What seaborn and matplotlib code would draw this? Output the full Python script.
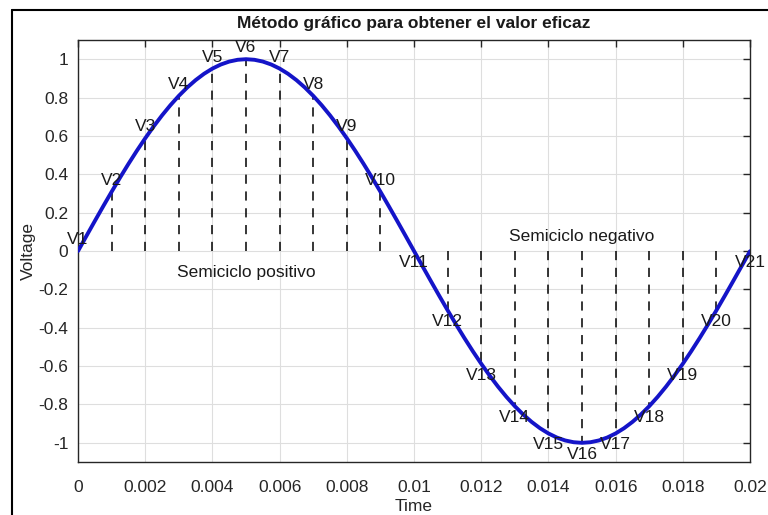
import numpy as np
import pandas as pd
import seaborn as sns
import matplotlib.pyplot as plt
from matplotlib.lines import Line2D

# Curve values read at every 0.00025 s
curve_t = [i * 0.00025 for i in range(81)]
curve_v = [0, 0.0785, 0.1564, 0.2334, 0.3090, 0.3827, 0.4540, 0.5225, 0.5878, 0.6494,
           0.7071, 0.7604, 0.8090, 0.8526, 0.8910, 0.9239, 0.9511, 0.9724, 0.9877, 0.9969,
           1, 0.9969, 0.9877, 0.9724, 0.9511, 0.9239, 0.8910, 0.8526, 0.8090, 0.7604,
           0.7071, 0.6494, 0.5878, 0.5225, 0.4540, 0.3827, 0.3090, 0.2334, 0.1564, 0.0785,
           0, -0.0785, -0.1564, -0.2334, -0.3090, -0.3827, -0.4540, -0.5225, -0.5878, -0.6494,
           -0.7071, -0.7604, -0.8090, -0.8526, -0.8910, -0.9239, -0.9511, -0.9724, -0.9877, -0.9969,
           -1, -0.9969, -0.9877, -0.9724, -0.9511, -0.9239, -0.8910, -0.8526, -0.8090, -0.7604,
           -0.7071, -0.6494, -0.5878, -0.5225, -0.4540, -0.3827, -0.3090, -0.2334, -0.1564, -0.0785,
           -0.001]

# Samples V1..V21 every 0.001 s
sample_t = [i * 0.001 for i in range(21)]
sample_v = [0.001, 0.309, 0.588, 0.809, 0.951, 1, 0.951, 0.809, 0.588, 0.309,
            -0.001, -0.309, -0.588, -0.809, -0.951, -1, -0.951, -0.809, -0.588, -0.309,
            -0.001]
sample_labels = ["V%d" % (i + 1) for i in range(21)]

x_ticks = [0, 0.002, 0.004, 0.006, 0.008, 0.01, 0.012, 0.014, 0.016, 0.018, 0.02]
x_tick_labels = ["0", "0.002", "0.004", "0.006", "0.008", "0.01", "0.012",
                 "0.014", "0.016", "0.018", "0.02"]
y_ticks = [-1, -0.8, -0.6, -0.4, -0.2, 0, 0.2, 0.4, 0.6, 0.8, 1]
y_tick_labels = ["-1", "-0.8", "-0.6", "-0.4", "-0.2", "0", "0.2", "0.4", "0.6", "0.8", "1"]

sns.set_style("white")
plt.rcParams['font.family'] = ['Liberation Sans', 'DejaVu Sans']

fig = plt.figure(figsize=(7.68, 5.15), dpi=100)
ax = fig.add_axes([0.1016, 0.1029, 0.875, 0.8194])

# Dashed sample lines
for t, v in zip(sample_t[1:-1], sample_v[1:-1]):
    ax.plot([t, t], [0, v], color="black", linestyle=(0, (6, 5)), linewidth=1.1, zorder=2)

df = pd.DataFrame({"Time": curve_t, "Voltage": curve_v})
sns.lineplot(data=df, x="Time", y="Voltage", ax=ax, color="#1414c8", linewidth=2.8, zorder=3)

# Sample labels
for t, v, lab in zip(sample_t, sample_v, sample_labels):
    if v >= 0:
        ax.text(t, v + 0.02, lab, ha="center", va="bottom", fontsize=12.5, color="#1a1a1a", zorder=4)
    else:
        ax.text(t, v - 0.02, lab, ha="center", va="top", fontsize=12.5, color="#1a1a1a", zorder=4)

ax.text(0.005, -0.11, "Semiciclo positivo", ha="center", va="center", fontsize=12.5, color="#1a1a1a")
ax.text(0.015, 0.075, "Semiciclo negativo", ha="center", va="center", fontsize=12.5, color="#1a1a1a")

ax.set_xlim(0, 0.02)
ax.set_ylim(-1.1, 1.1)
ax.set_xticks(x_ticks)
ax.set_xticklabels(x_tick_labels)
ax.set_yticks(y_ticks)
ax.set_yticklabels(y_tick_labels)
ax.tick_params(direction="in", top=True, right=True, length=5, width=1,
               labelsize=12.5, labelcolor="#262626")
ax.tick_params(axis="x", pad=13)
ax.tick_params(axis="y", pad=7)
ax.grid(True, color="#dedede", linewidth=0.8)
for s in ax.spines.values():
    s.set_color("#262626")
    s.set_linewidth(1)
ax.set_xlabel("Time", fontsize=12.5, color="#262626", labelpad=3)
ax.set_ylabel("Voltage", fontsize=12.5, color="#262626", labelpad=2)
ax.set_title("Método gráfico para obtener el valor eficaz", fontsize=12.5,
             fontweight="bold", color="#1a1a1a", pad=9)

# Outer frame
fig.add_artist(Line2D([12 / 768, 12 / 768], [0, 1 - 10 / 515], color="black", linewidth=1.5,
                      transform=fig.transFigure))
fig.add_artist(Line2D([12 / 768, 1], [1 - 10 / 515, 1 - 10 / 515], color="black", linewidth=1.5,
                      transform=fig.transFigure))

fig.savefig("out.png", dpi=100)
